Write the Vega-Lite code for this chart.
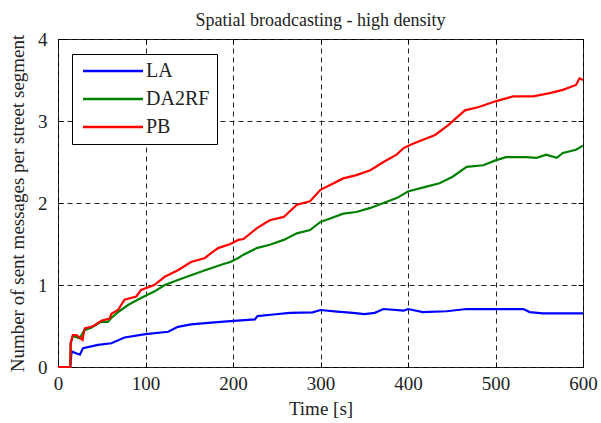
{
  "$schema": "https://vega.github.io/schema/vega-lite/v6.json",
  "width": 525,
  "height": 328,
  "autosize": "none",
  "padding": {"left": 58, "top": 39, "right": 18, "bottom": 56},
  "background": "white",
  "title": {"text": "Spatial broadcasting - high density", "font": "Liberation Serif", "fontSize": 18, "fontWeight": "normal", "color": "#222", "baseline": "alphabetic", "offset": -14, "anchor": "middle"},
  "config": {
    "view": {"stroke": "#000", "strokeWidth": 1},
    "axis": {"labelFont": "Liberation Serif", "labelFontSize": 19, "labelColor": "#222", "titleFont": "Liberation Serif", "titleFontSize": 19, "titleFontWeight": "normal", "titleColor": "#222", "domain": false, "tickColor": "#000", "tickSize": -5, "grid": true, "gridColor": "#222", "gridDash": [5, 4], "gridOpacity": 1, "gridWidth": 1},
    "legend": {"labelFont": "Liberation Serif", "labelFontSize": 20, "labelColor": "#222"}
  },
  "data": {"values": [
    {"s":"LA","t":0,"v":0},{"s":"LA","t":14,"v":0},{"s":"LA","t":15.5,"v":0.19},{"s":"LA","t":20,"v":0.17},{"s":"LA","t":25,"v":0.15},{"s":"LA","t":28.6,"v":0.23},{"s":"LA","t":45.7,"v":0.27},{"s":"LA","t":61,"v":0.29},{"s":"LA","t":76,"v":0.36},{"s":"LA","t":100,"v":0.4},{"s":"LA","t":126,"v":0.43},{"s":"LA","t":137,"v":0.49},{"s":"LA","t":152,"v":0.52},{"s":"LA","t":175,"v":0.54},{"s":"LA","t":197,"v":0.56},{"s":"LA","t":225,"v":0.58},{"s":"LA","t":228,"v":0.62},{"s":"LA","t":246,"v":0.64},{"s":"LA","t":265,"v":0.66},{"s":"LA","t":291,"v":0.667},{"s":"LA","t":300,"v":0.695},{"s":"LA","t":319,"v":0.675},{"s":"LA","t":337,"v":0.66},{"s":"LA","t":350,"v":0.645},{"s":"LA","t":362,"v":0.66},{"s":"LA","t":372,"v":0.707},{"s":"LA","t":395,"v":0.687},{"s":"LA","t":400,"v":0.707},{"s":"LA","t":417,"v":0.67},{"s":"LA","t":444,"v":0.68},{"s":"LA","t":467,"v":0.707},{"s":"LA","t":532,"v":0.707},{"s":"LA","t":539,"v":0.67},{"s":"LA","t":554,"v":0.655},{"s":"LA","t":600,"v":0.655},
    {"s":"DA2RF","t":0,"v":0},{"s":"DA2RF","t":14,"v":0},{"s":"DA2RF","t":14.5,"v":0.29},{"s":"DA2RF","t":17,"v":0.38},{"s":"DA2RF","t":25,"v":0.35},{"s":"DA2RF","t":30,"v":0.45},{"s":"DA2RF","t":38,"v":0.48},{"s":"DA2RF","t":49,"v":0.55},{"s":"DA2RF","t":57,"v":0.55},{"s":"DA2RF","t":61,"v":0.6},{"s":"DA2RF","t":70,"v":0.68},{"s":"DA2RF","t":80,"v":0.756},{"s":"DA2RF","t":91,"v":0.82},{"s":"DA2RF","t":100,"v":0.87},{"s":"DA2RF","t":110,"v":0.92},{"s":"DA2RF","t":122,"v":1.0},{"s":"DA2RF","t":137,"v":1.06},{"s":"DA2RF","t":152,"v":1.12},{"s":"DA2RF","t":168,"v":1.18},{"s":"DA2RF","t":179,"v":1.22},{"s":"DA2RF","t":190,"v":1.26},{"s":"DA2RF","t":197,"v":1.28},{"s":"DA2RF","t":206,"v":1.33},{"s":"DA2RF","t":212,"v":1.37},{"s":"DA2RF","t":227,"v":1.45},{"s":"DA2RF","t":242,"v":1.49},{"s":"DA2RF","t":258,"v":1.55},{"s":"DA2RF","t":273,"v":1.63},{"s":"DA2RF","t":288,"v":1.67},{"s":"DA2RF","t":300,"v":1.77},{"s":"DA2RF","t":311,"v":1.81},{"s":"DA2RF","t":326,"v":1.87},{"s":"DA2RF","t":341,"v":1.89},{"s":"DA2RF","t":357,"v":1.94},{"s":"DA2RF","t":372,"v":2.0},{"s":"DA2RF","t":387,"v":2.06},{"s":"DA2RF","t":400,"v":2.14},{"s":"DA2RF","t":421,"v":2.2},{"s":"DA2RF","t":436,"v":2.24},{"s":"DA2RF","t":451,"v":2.32},{"s":"DA2RF","t":467,"v":2.44},{"s":"DA2RF","t":486,"v":2.46},{"s":"DA2RF","t":500,"v":2.52},{"s":"DA2RF","t":512,"v":2.56},{"s":"DA2RF","t":535,"v":2.56},{"s":"DA2RF","t":547,"v":2.55},{"s":"DA2RF","t":558,"v":2.59},{"s":"DA2RF","t":570,"v":2.55},{"s":"DA2RF","t":577,"v":2.61},{"s":"DA2RF","t":592,"v":2.65},{"s":"DA2RF","t":600,"v":2.7},
    {"s":"PB","t":0,"v":0},{"s":"PB","t":14,"v":0},{"s":"PB","t":14.5,"v":0.29},{"s":"PB","t":17,"v":0.39},{"s":"PB","t":21,"v":0.39},{"s":"PB","t":25,"v":0.36},{"s":"PB","t":28,"v":0.33},{"s":"PB","t":30.5,"v":0.47},{"s":"PB","t":38,"v":0.49},{"s":"PB","t":42,"v":0.51},{"s":"PB","t":49.5,"v":0.565},{"s":"PB","t":59,"v":0.59},{"s":"PB","t":61,"v":0.65},{"s":"PB","t":68.6,"v":0.695},{"s":"PB","t":76,"v":0.82},{"s":"PB","t":89.5,"v":0.86},{"s":"PB","t":95,"v":0.94},{"s":"PB","t":110,"v":1.0},{"s":"PB","t":122,"v":1.1},{"s":"PB","t":137,"v":1.18},{"s":"PB","t":152,"v":1.28},{"s":"PB","t":168,"v":1.33},{"s":"PB","t":175,"v":1.39},{"s":"PB","t":183,"v":1.45},{"s":"PB","t":197,"v":1.5},{"s":"PB","t":206,"v":1.55},{"s":"PB","t":212,"v":1.56},{"s":"PB","t":227,"v":1.69},{"s":"PB","t":242,"v":1.79},{"s":"PB","t":258,"v":1.83},{"s":"PB","t":273,"v":1.98},{"s":"PB","t":288,"v":2.02},{"s":"PB","t":300,"v":2.16},{"s":"PB","t":311,"v":2.22},{"s":"PB","t":326,"v":2.3},{"s":"PB","t":341,"v":2.34},{"s":"PB","t":357,"v":2.4},{"s":"PB","t":372,"v":2.5},{"s":"PB","t":387,"v":2.59},{"s":"PB","t":395,"v":2.67},{"s":"PB","t":403,"v":2.71},{"s":"PB","t":412,"v":2.75},{"s":"PB","t":431,"v":2.83},{"s":"PB","t":446,"v":2.95},{"s":"PB","t":465,"v":3.13},{"s":"PB","t":481,"v":3.17},{"s":"PB","t":500,"v":3.24},{"s":"PB","t":520,"v":3.3},{"s":"PB","t":543,"v":3.3},{"s":"PB","t":562,"v":3.34},{"s":"PB","t":577,"v":3.38},{"s":"PB","t":592,"v":3.44},{"s":"PB","t":596,"v":3.52},{"s":"PB","t":600,"v":3.5}
  ]},
  "layer": [
    {
      "mark": {"type": "line", "strokeWidth": 2.2},
      "encoding": {
        "x": {"field": "t", "type": "quantitative", "scale": {"domain": [0, 600], "nice": false}, "axis": {"values": [0, 100, 200, 300, 400, 500, 600], "title": "Time [s]", "labelPadding": 12, "titlePadding": 6, "labelFlush": false}},
        "y": {"field": "v", "type": "quantitative", "scale": {"domain": [0, 4], "nice": false}, "axis": {"values": [0, 1, 2, 3, 4], "title": "Number of sent messages per street segment", "labelPadding": 16, "titlePadding": 10}},
        "color": {"field": "s", "type": "nominal", "scale": {"domain": ["LA", "DA2RF", "PB"], "range": ["#0000ff", "#008000", "#ff0000"]},
          "legend": {"title": null, "orient": "none", "legendX": 14, "legendY": 15, "fillColor": "white", "strokeColor": "#000", "padding": 7, "symbolType": "M-5,0H5", "symbolSize": 144, "symbolStrokeWidth": 2.5, "symbolOffset": 24, "labelOffset": 23, "rowPadding": 8, "cornerRadius": 0}}
      }
    },
    {
      "mark": {"type": "line", "opacity": 0},
      "encoding": {
        "x": {"field": "t", "type": "quantitative", "axis": {"orient": "top", "values": [0, 100, 200, 300, 400, 500, 600], "labels": false, "grid": false, "title": null}},
        "y": {"field": "v", "type": "quantitative", "axis": {"orient": "right", "values": [0, 1, 2, 3, 4], "labels": false, "grid": false, "title": null}},
        "detail": {"field": "s"}
      }
    }
  ],
  "resolve": {"axis": {"x": "independent", "y": "independent"}}
}
